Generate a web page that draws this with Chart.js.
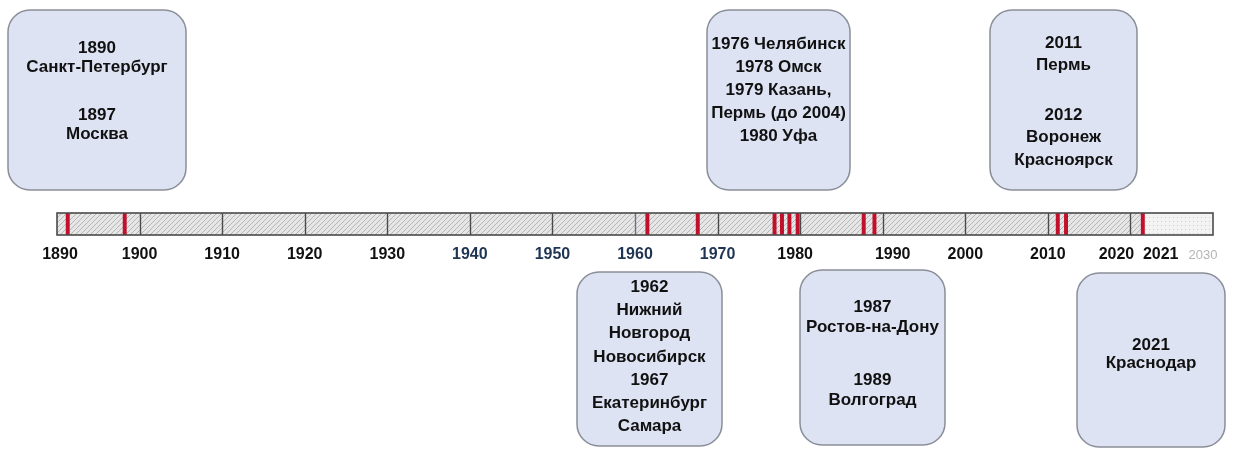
<!DOCTYPE html>
<html>
<head>
<meta charset="utf-8">
<script src="https://cdn.jsdelivr.net/npm/chart.js@4"></script>
<style>
  body { margin: 0; background: #fff; }
  #wrap { width: 1233px; height: 451px; }
</style>
</head>
<body>
<div id="wrap"><canvas id="timeline"></canvas></div>
<script>
// шкала
const yearStart = 1890
const yearEnd = 2030
const yearNow = 2021.5
const gridYears = [1900, 1910, 1920, 1930, 1940, 1950, 1960, 1970, 1980, 1990, 2000, 2010, 2020]
const tickYears = [1890, 1900, 1910, 1920, 1930, 1940, 1950, 1960, 1970, 1980, 1990, 2000, 2010, 2020, 2021, 2030]
// красные отметки (по картинке)
const markYears = [1891.3, 1898.2, 1961.5, 1967.6, 1976.9, 1977.8, 1978.7, 1979.7, 1987.7, 1989, 2011.2, 2012.2, 2021.5]
// подписи в блоках
const box1Lines = ["1890", "Санкт-Петербург", "", "1897", "Москва"]
const box2Lines = ["1976 Челябинск", "1978 Омск", "1979 Казань,", "Пермь (до 2004)", "1980 Уфа"]
const box3Lines = ["2011", "Пермь", "", "2012", "Воронеж", "Красноярск"]
const box4Lines = ["1962", "Нижний", "Новгород", "Новосибирск", "1967", "Екатеринбург", "Самара"]
const box5Lines = ["1987", "Ростов-на-Дону", "", "1989", "Волгоград"]
const box6Lines = ["2021", "Краснодар"]

function hatchPattern() {
    const c = document.createElement("canvas")
    c.width = 5; c.height = 5
    const g = c.getContext("2d")
    g.fillStyle = "#e6e6e6"
    g.fillRect(0, 0, 5, 5)
    g.strokeStyle = "#b6b6b6"
    g.lineWidth = 1
    g.beginPath()
    g.moveTo(0, 5); g.lineTo(5, 0)
    g.moveTo(-1, 1); g.lineTo(1, -1)
    g.moveTo(4, 6); g.lineTo(6, 4)
    g.stroke()
    return g.createPattern(c, "repeat")
}

function dotPattern() {
    const c = document.createElement("canvas")
    c.width = 4; c.height = 4
    const g = c.getContext("2d")
    g.fillStyle = "#f3f3f3"
    g.fillRect(0, 0, 4, 4)
    g.fillStyle = "#d0d0d0"
    g.fillRect(1, 1, 1, 1)
    return g.createPattern(c, "repeat")
}

const boxes = [
    { x0: 8, y0: 10, x1: 186, y1: 190, top: 48, lh: 19, gap: 29, lines: box1Lines },
    { x0: 707, y0: 10, x1: 850, y1: 190, top: 44, lh: 23, gap: 23, lines: box2Lines },
    { x0: 990, y0: 10, x1: 1137, y1: 190, top: 43, lh: 22.5, gap: 27, lines: box3Lines },
    { x0: 577, y0: 272, x1: 722, y1: 446, top: 287, lh: 23.3, gap: 23, lines: box4Lines },
    { x0: 800, y0: 270, x1: 945, y1: 445, top: 307, lh: 20, gap: 33, lines: box5Lines },
    { x0: 1077, y0: 273, x1: 1225, y1: 447, top: 345, lh: 18.5, gap: 18, lines: box6Lines }
]

const labelShift = { 1890: 3, 1980: -5, 1990: 10, 2020: -14, 2021: 22, 2030: -10 }
function labelColor(y) {
    if (y >= 1940 && y <= 1970) return "#1f3452"
    if (y == 2030) return "#b5b5b5"
    return "#111"
}

const timelinePlugin = {
    id: "timeline",
    afterDatasetsDraw(chart) {
        const ctx = chart.ctx
        const xs = chart.scales.x
        const area = chart.chartArea
        ctx.save()
        // сетка
        ctx.lineWidth = 1.4
        gridYears.forEach(y => {
            const px = Math.round(xs.getPixelForValue(y)) + 0.5
            ctx.strokeStyle = y == 1960 ? "#6c7088" : "#4a4a4a"
            ctx.beginPath()
            ctx.moveTo(px, area.top)
            ctx.lineTo(px, area.bottom)
            ctx.stroke()
        })
        // рамка
        ctx.strokeStyle = "#4a4a4a"
        ctx.lineWidth = 1.6
        ctx.strokeRect(area.left, area.top, area.right - area.left, area.bottom - area.top)
        // подписи лет
        ctx.textAlign = "center"
        ctx.textBaseline = "middle"
        tickYears.forEach(y => {
            const px = xs.getPixelForValue(y) + (labelShift[y] || 0)
            ctx.fillStyle = labelColor(y)
            ctx.font = y == 2030 ? "13px 'Liberation Sans', Arial" : "bold 16px 'Liberation Sans', Arial"
            ctx.fillText(String(y), px, 255)
        })
        // блоки
        boxes.forEach(b => {
            ctx.beginPath()
            ctx.roundRect(b.x0, b.y0, b.x1 - b.x0, b.y1 - b.y0, 22)
            ctx.fillStyle = "#dde3f3"
            ctx.fill()
            ctx.strokeStyle = "#8a8e98"
            ctx.lineWidth = 1.5
            ctx.stroke()
            ctx.fillStyle = "#111"
            ctx.font = "bold 17px 'Liberation Sans', Arial"
            const cx = (b.x0 + b.x1) / 2
            let ty = b.top
            b.lines.forEach(t => {
                if (t === "") { ty += b.gap; return }
                ctx.fillText(t, cx, ty)
                ty += b.lh
            })
        })
        ctx.restore()
    }
}

// отметки рисуются поверх шкалы (order меньше)
const markSets = markYears.map(y => ({
    data: [[y - 0.2, y + 0.2]],
    backgroundColor: "#c0102c",
    borderWidth: 0,
    grouped: false,
    order: 0,
    barPercentage: 1,
    categoryPercentage: 1
}))

new Chart("timeline", {
    type: "bar",
    data: {
        labels: ["Шкала"],
        datasets: [
            { data: [[yearStart, yearNow]], backgroundColor: hatchPattern(), borderWidth: 0, order: 2,
              grouped: false, barPercentage: 1, categoryPercentage: 1 },
            { data: [[yearNow, yearEnd]], backgroundColor: dotPattern(), borderWidth: 0, order: 2,
              grouped: false, barPercentage: 1, categoryPercentage: 1 }
        ].concat(markSets)
    },
    options: {
        indexAxis: "y",
        responsive: true,
        maintainAspectRatio: false,
        animation: false,
        layout: { padding: { left: 57, right: 20, top: 213, bottom: 216 } },
        scales: {
            x: { type: "linear", min: yearStart, max: yearEnd, display: false },
            y: { display: false }
        },
        plugins: {
            legend: { display: false },
            tooltip: { enabled: false }
        }
    },
    plugins: [timelinePlugin]
})
</script>
</body>
</html>
